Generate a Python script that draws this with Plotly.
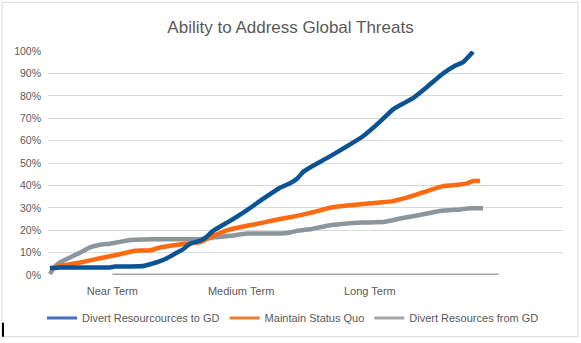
import plotly.graph_objects as go

# ---- data ----
title = "Ability to Address Global Threats"
categories = ["Near Term", "Medium Term", "Long Term"]
category_pos = [0.5, 1.5, 2.5]

series_names = ["Divert Resourcources to GD", "Maintain Status Quo", "Divert Resources from GD"]

blue_x = [0.016, 0.093, 0.249, 0.404, 0.482, 0.520, 0.637, 0.738, 0.792, 0.870, 0.924, 0.986,
          1.049, 1.103, 1.181, 1.219, 1.282, 1.414, 1.546, 1.670, 1.802, 1.880, 1.934, 1.981,
          2.035, 2.190, 2.322, 2.447, 2.579, 2.680, 2.773, 2.835, 2.944, 3.068, 3.161, 3.223, 3.301]
blue_y = [0.030, 0.033, 0.033, 0.033, 0.034, 0.038, 0.038, 0.040, 0.048, 0.062, 0.075, 0.095,
          0.115, 0.140, 0.153, 0.165, 0.197, 0.242, 0.290, 0.340, 0.390, 0.410, 0.430, 0.460,
          0.480, 0.530, 0.575, 0.620, 0.685, 0.740, 0.770, 0.790, 0.840, 0.900, 0.935, 0.950, 0.997]

orange_x = [0.016, 0.093, 0.249, 0.404, 0.559, 0.676, 0.792, 0.870, 1.025, 1.181, 1.282, 1.414,
            1.546, 1.670, 1.802, 1.934, 2.058, 2.190, 2.322, 2.447, 2.579, 2.680, 2.734, 2.812,
            2.944, 3.068, 3.200, 3.254, 3.301, 3.355]
orange_y = [0.030, 0.040, 0.056, 0.075, 0.093, 0.108, 0.110, 0.123, 0.136, 0.147, 0.175, 0.204,
            0.220, 0.234, 0.250, 0.264, 0.280, 0.300, 0.310, 0.317, 0.324, 0.330, 0.338, 0.350,
            0.375, 0.397, 0.404, 0.409, 0.420, 0.420]

gray_x = [0.016, 0.039, 0.093, 0.171, 0.249, 0.326, 0.404, 0.482, 0.559, 0.660, 0.792, 1.181,
          1.282, 1.414, 1.546, 1.802, 1.880, 1.934, 2.058, 2.190, 2.322, 2.447, 2.617, 2.734,
          2.889, 3.045, 3.200, 3.278, 3.379]
gray_y = [0.004, 0.027, 0.056, 0.078, 0.100, 0.123, 0.135, 0.140, 0.148, 0.157, 0.160, 0.160,
          0.167, 0.175, 0.185, 0.185, 0.190, 0.197, 0.207, 0.222, 0.230, 0.234, 0.238, 0.252,
          0.268, 0.286, 0.293, 0.298, 0.298]

baseline_x = [0.5, 1.5, 2.5, 3.5]
baseline_y = [0, 0, 0, 0]

line_colors = ["#0B5394", "#FF6A10", "#8B969C"]
legend_colors = ["#4472C4", "#ED7D31", "#A5A5A5"]

W, H = 581, 343
L, R, T, B = 48, 18, 51, 67

fig = go.Figure()

fig.add_trace(go.Scatter(x=baseline_x, y=baseline_y, mode="lines",
                         line=dict(color="#A5A5A5", width=3), showlegend=False, hoverinfo="skip"))

for xs, ys, c in [(gray_x, gray_y, line_colors[2]), (orange_x, orange_y, line_colors[1]),
                  (blue_x, blue_y, line_colors[0])]:
    fig.add_trace(go.Scatter(x=xs, y=ys, mode="lines", line=dict(color=c, width=4.5, shape="spline", smoothing=0.4),
                             showlegend=False))

for name, c in zip(series_names, legend_colors):
    fig.add_trace(go.Scatter(x=[None], y=[None], mode="lines", name=name,
                             line=dict(color=c, width=3)))

pw = W - L - R
ph = H - T - B
def px(x):
    return (x - L) / pw
def py(y):
    return (H - B - y) / ph

fig.update_layout(
    width=W, height=H,
    margin=dict(l=L, r=R, t=T, b=B),
    paper_bgcolor="white", plot_bgcolor="white",
    font=dict(family="Liberation Sans, Arial, sans-serif", size=11, color="#595959"),
    title=dict(text=title, x=0.5, xanchor="center", y=1 - 27 / H, yanchor="middle",
               font=dict(size=17, color="#595959")),
    xaxis=dict(range=[0, 4], tickvals=category_pos, ticktext=categories, showgrid=False,
               zeroline=False, showline=False, ticks="", tickfont=dict(size=11),
               ticklabelstandoff=8),
    yaxis=dict(range=[0, 1.0005], dtick=0.1, tickformat=".0%", gridcolor="#D9D9D9", gridwidth=1,
               zeroline=False, showline=False, ticks="", tickfont=dict(size=10.5),
               ticklabelstandoff=6),
    legend=dict(orientation="h", x=px(42), xanchor="left", y=py(318), yanchor="middle",
                font=dict(size=11, color="#595959"), itemwidth=30, tracegroupgap=0,
                bgcolor="rgba(0,0,0,0)"),
    showlegend=True,
    shapes=[
        dict(type="rect", xref="paper", yref="paper", x0=px(2), x1=px(578), y0=py(338), y1=py(2),
             line=dict(color="#D9D9D9", width=1), layer="below"),
        dict(type="line", xref="paper", yref="paper", x0=px(3), x1=px(3), y0=py(338), y1=py(324),
             line=dict(color="black", width=2)),
    ],
)

fig.write_html("out.html")
